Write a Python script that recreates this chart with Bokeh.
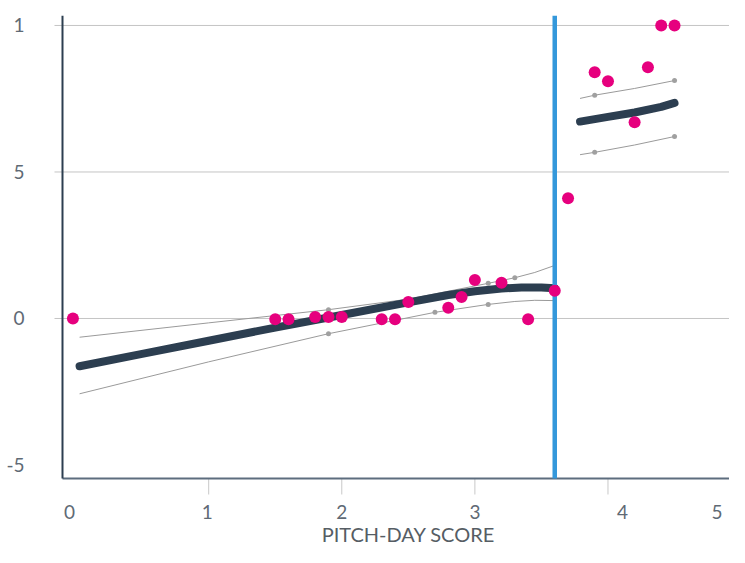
from bokeh.plotting import figure
from bokeh.models import Range1d, LinearAxis, FixedTicker
from bokeh.core.properties import value
from bokeh.embed import file_html
from bokeh.resources import INLINE

# ---- data ----
pts_x = [-0.02, 1.5, 1.6, 1.8, 1.9, 2.0, 2.3, 2.4, 2.5, 2.8, 2.9, 3.0, 3.2, 3.4, 3.6,
         3.7, 3.9, 4.0, 4.2, 4.3, 4.4, 4.5]
pts_y = [0.0, -0.03, -0.03, 0.05, 0.05, 0.05, -0.03, -0.03, 0.56, 0.37, 0.73, 1.31, 1.22, -0.03, 0.95,
         4.1, 8.4, 8.1, 6.7, 8.57, 10.0, 10.0]

fit_left_x = [0.03, 0.5, 1.0, 1.5, 2.0, 2.5, 2.8, 3.0, 3.2, 3.35, 3.5, 3.6]
fit_left_y = [-1.63, -1.21, -0.76, -0.31, 0.12, 0.55, 0.80, 0.93, 1.02, 1.06, 1.06, 1.03]
upper_left_x = [0.03, 1.0, 1.9, 2.5, 3.1, 3.3, 3.45, 3.6]
upper_left_y = [-0.64, -0.15, 0.30, 0.66, 1.20, 1.39, 1.57, 1.81]
lower_left_x = [0.03, 1.0, 1.9, 2.7, 3.1, 3.3, 3.45, 3.6]
lower_left_y = [-2.57, -1.48, -0.52, 0.21, 0.48, 0.58, 0.62, 0.61]

fit_right_x = [3.79, 4.0, 4.2, 4.4, 4.5]
fit_right_y = [6.72, 6.88, 7.03, 7.22, 7.36]
upper_right_x = [3.79, 3.9, 4.2, 4.5]
upper_right_y = [7.51, 7.62, 7.85, 8.12]
lower_right_x = [3.79, 3.9, 4.2, 4.5]
lower_right_y = [5.59, 5.67, 5.92, 6.21]

band_pts_x = [1.9, 1.9, 2.7, 3.1, 3.1, 3.3, 3.9, 4.5, 3.9, 4.5]
band_pts_y = [0.30, -0.52, 0.21, 1.20, 0.48, 1.39, 7.62, 8.12, 5.67, 6.21]

cutoff = 3.6

x_tick_marks = [1, 2, 3, 4, 5]
x_label_pos = [-0.045, 0.99, 2.0, 3.0, 4.11, 4.82]
x_label_text = ["0", "1", "2", "3", "4", "5"]
x_title = "PITCH-DAY SCORE"
y_grid_ticks = [0, 5, 10]
y_label_pos = [-5, 0, 5, 10]
y_label_text = ["-5", "0", "5", "1"]

# ---- geometry: the frame also holds the outward x ticks, x labels and x title ----
X_MIN, X_MAX = -0.2186, 4.913
Y_MIN, Y_MAX = -7.816, 10.34
GRID_X0 = -0.1585      # grid lines run a little left of the axis (as tick marks)
Y_AXIS_X = -0.0984     # where the y axis line sits
X_AXIS_Y = -5.46       # where the x axis line sits
X_TICK_END = -6.007    # bottom end of the x tick marks
X_LABEL_Y = -6.62
X_TITLE_X, X_TITLE_Y = 2.5, -7.36

FONT = "Lato"
LABEL_COLOR = "#5f6a75"

p = figure(width=729, height=547, x_range=Range1d(X_MIN, X_MAX), y_range=Range1d(Y_MIN, Y_MAX),
           output_backend="svg", toolbar_location=None, x_axis_type=None, y_axis_type=None,
           min_border_left=46, min_border_right=0, min_border_top=15, min_border_bottom=0)
p.outline_line_color = None
p.grid.visible = False

# y labels as a real axis
yl = LinearAxis(ticker=FixedTicker(ticks=y_label_pos),
                major_label_overrides={v: t for v, t in zip(y_label_pos, y_label_text)},
                axis_line_color=None, major_tick_line_color=None, minor_tick_line_color=None,
                major_tick_out=0, major_tick_in=0, major_label_standoff=22,
                major_label_text_font=FONT, major_label_text_font_size="19px",
                major_label_text_color=LABEL_COLOR)
p.add_layout(yl, "left")

# horizontal grid lines (extending left as tick marks)
p.segment(x0=[GRID_X0] * len(y_grid_ticks), x1=[X_MAX] * len(y_grid_ticks),
          y0=y_grid_ticks, y1=y_grid_ticks, line_color="#c4c4c4", line_width=1)
# x tick marks below the axis line
p.segment(x0=x_tick_marks, x1=x_tick_marks, y0=[X_AXIS_Y] * len(x_tick_marks),
          y1=[X_TICK_END] * len(x_tick_marks), line_color="#c8c8c8", line_width=1)
# axis lines
p.segment(x0=[Y_AXIS_X], x1=[X_MAX], y0=[X_AXIS_Y], y1=[X_AXIS_Y], line_color="#5d6d7e", line_width=2)
p.segment(x0=[Y_AXIS_X], x1=[Y_AXIS_X], y0=[X_AXIS_Y], y1=[Y_MAX], line_color="#2c3e50", line_width=2)

# x tick labels and axis title
p.text(x=x_label_pos, y=[X_LABEL_Y] * len(x_label_pos), text=x_label_text,
       text_font=value(FONT), text_font_size="19px", text_color=LABEL_COLOR,
       text_align="center", text_baseline="middle")
p.text(x=[X_TITLE_X], y=[X_TITLE_Y], text=[x_title],
       text_font=value(FONT), text_font_size="20px", text_color="#565d64",
       text_align="center", text_baseline="middle")

# confidence bands
for bx, by in [(upper_left_x, upper_left_y), (lower_left_x, lower_left_y),
               (upper_right_x, upper_right_y), (lower_right_x, lower_right_y)]:
    p.line(bx, by, line_color="#9a9a9a", line_width=1)
p.scatter(band_pts_x, band_pts_y, size=5, fill_color="#a0a0a0", line_color=None)

# fits
p.line(fit_left_x, fit_left_y, line_color="#2c3e50", line_width=8, line_cap="round", line_join="round")
p.line(fit_right_x, fit_right_y, line_color="#2c3e50", line_width=8, line_cap="round", line_join="round")

# cutoff line
p.segment(x0=[cutoff], x1=[cutoff], y0=[X_AXIS_Y], y1=[Y_MAX], line_color="#3498db", line_width=4.5)

# points
p.scatter(pts_x, pts_y, size=12, fill_color="#e6007e", line_color=None)

open("out.html", "w").write(file_html(p, INLINE))
